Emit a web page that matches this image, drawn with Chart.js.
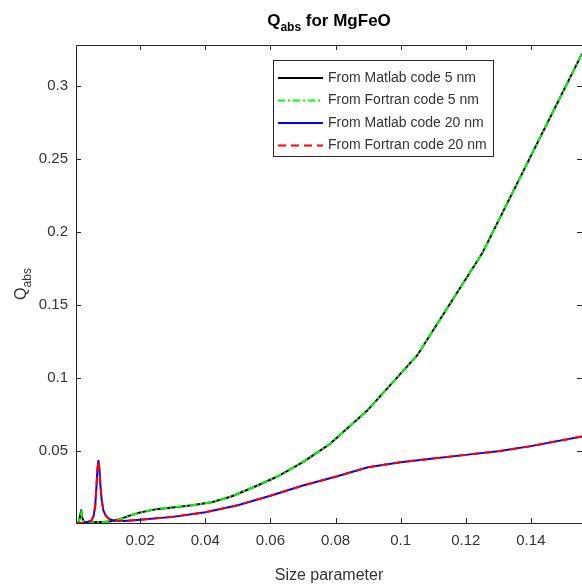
<!DOCTYPE html>
<html>
<head>
<meta charset="utf-8">
<script src="https://cdn.jsdelivr.net/npm/chart.js@4"></script>
<style>
  html, body { margin: 0; padding: 0; background: #fff; }
  #wrap { width: 582px; height: 586px; }
</style>
</head>
<body>
<div id="wrap"><canvas id="qabsChart" width="582" height="586"></canvas></div>
<script>
// size parameter / Q_abs
const size5 = [0.0003, 0.0012, 0.0016, 0.0019, 0.0022, 0.0028, 0.005, 0.008, 0.011, 0.014, 0.017, 0.02, 0.025, 0.03, 0.036, 0.042, 0.048, 0.055, 0.062, 0.07, 0.078, 0.09, 0.105, 0.125, 0.1557];
const matlab5 = [0.0004, 0.001, 0.006, 0.009, 0.004, 0.001, 0.0008, 0.0009, 0.0015, 0.003, 0.0055, 0.0075, 0.0098, 0.011, 0.0125, 0.0145, 0.0185, 0.025, 0.032, 0.042, 0.054, 0.078, 0.115, 0.185, 0.322];
const fortran5 = [0.0004, 0.001, 0.006, 0.009, 0.004, 0.001, 0.0008, 0.0009, 0.0015, 0.003, 0.0055, 0.0075, 0.0098, 0.011, 0.0125, 0.0145, 0.0185, 0.025, 0.032, 0.042, 0.054, 0.078, 0.115, 0.185, 0.322];

const size20 = [0.0003, 0.003, 0.005, 0.0057, 0.0062, 0.0066, 0.0069, 0.0072, 0.0075, 0.0078, 0.0082, 0.0087, 0.0094, 0.0105, 0.012, 0.015, 0.02, 0.03, 0.04, 0.05, 0.06, 0.07, 0.08, 0.09, 0.1, 0.11, 0.12, 0.13, 0.14, 0.1557];
const matlab20 = [0.0003, 0.0005, 0.0018, 0.005, 0.012, 0.026, 0.038, 0.043, 0.037, 0.026, 0.016, 0.009, 0.0055, 0.003, 0.0018, 0.0016, 0.0025, 0.0045, 0.0077, 0.0125, 0.019, 0.026, 0.032, 0.0385, 0.042, 0.0445, 0.047, 0.0495, 0.053, 0.0596];
const fortran20 = [0.0003, 0.0005, 0.0018, 0.005, 0.012, 0.026, 0.038, 0.043, 0.037, 0.026, 0.016, 0.009, 0.0055, 0.003, 0.0018, 0.0016, 0.0025, 0.0045, 0.0077, 0.0125, 0.019, 0.026, 0.032, 0.0385, 0.042, 0.0445, 0.047, 0.0495, 0.053, 0.0596];

const xTicks = [0.02, 0.04, 0.06, 0.08, 0.1, 0.12, 0.14];
const yTicks = [0.05, 0.1, 0.15, 0.2, 0.25, 0.3];
const seriesLabels = ['From Matlab code 5 nm', 'From Fortran code 5 nm', 'From Matlab code 20 nm', 'From Fortran code 20 nm'];

const FONT = '"Liberation Sans", Arial, Helvetica, sans-serif';
const TXT = '#333333';
const AXIS = '#262626';

const pts = (xs, ys) => xs.map((x, i) => ({ x: x, y: ys[i] }));

// matlab style: ticks inside, full box, text with subscripts
const matlabDecor = {
  id: 'matlabDecor',
  afterDatasetsDraw(chart) {
    const { ctx, chartArea: a, scales } = chart;
    ctx.save();
    ctx.strokeStyle = AXIS;
    ctx.lineWidth = 1;
    ctx.beginPath();
    ctx.rect(a.left + 0.5, a.top + 0.5, a.right - a.left, a.bottom - a.top);
    ctx.stroke();
    const tl = 5;
    ctx.beginPath();
    scales.x.ticks.forEach(t => {
      const px = Math.round(scales.x.getPixelForValue(t.value)) + 0.5;
      ctx.moveTo(px, a.bottom); ctx.lineTo(px, a.bottom - tl);
      ctx.moveTo(px, a.top); ctx.lineTo(px, a.top + tl);
    });
    scales.y.ticks.forEach(t => {
      const py = Math.round(scales.y.getPixelForValue(t.value)) + 0.5;
      ctx.moveTo(a.left, py); ctx.lineTo(a.left + tl, py);
      ctx.moveTo(a.right, py); ctx.lineTo(a.right - tl, py);
    });
    ctx.stroke();

    // legend box inside the axes
    const lx = 273, ly = 60, lw = 220, lh = 96;
    ctx.fillStyle = '#fff';
    ctx.fillRect(lx, ly, lw, lh);
    ctx.strokeStyle = '#262626';
    ctx.strokeRect(lx + 0.5, ly + 0.5, lw, lh);
    ctx.font = '14px ' + FONT;
    ctx.textBaseline = 'middle';
    chart.data.datasets.forEach((ds, i) => {
      const y = ly + 18 + i * 22.5;
      ctx.beginPath();
      ctx.strokeStyle = ds.borderColor;
      ctx.lineWidth = ds.borderWidth;
      ctx.setLineDash(ds.borderDash || []);
      ctx.moveTo(lx + 5, y);
      ctx.lineTo(lx + 50, y);
      ctx.stroke();
      ctx.setLineDash([]);
      ctx.fillStyle = TXT;
      ctx.fillText(ds.label, lx + 55, y);
    });

    // title Q_abs for MgFeO
    const cx = (a.left + a.right) / 2;
    ctx.fillStyle = '#000';
    ctx.textBaseline = 'alphabetic';
    const bigF = 'bold 17px ' + FONT, subF = 'bold 12px ' + FONT;
    ctx.font = bigF; const wQ = ctx.measureText('Q').width; const wRest = ctx.measureText(' for MgFeO').width;
    ctx.font = subF; const wSub = ctx.measureText('abs').width;
    let x0 = cx - (wQ + wSub + wRest) / 2;
    ctx.font = bigF; ctx.fillText('Q', x0, 26);
    ctx.font = subF; ctx.fillText('abs', x0 + wQ, 31);
    ctx.font = bigF; ctx.fillText(' for MgFeO', x0 + wQ + wSub, 26);

    // x label
    ctx.fillStyle = TXT;
    ctx.font = '16px ' + FONT;
    ctx.textAlign = 'center';
    ctx.fillText('Size parameter', cx, 580);

    // y label Q_abs rotated
    ctx.translate(26, (a.top + a.bottom) / 2);
    ctx.rotate(-Math.PI / 2);
    ctx.textAlign = 'left';
    ctx.font = '16px ' + FONT; const yq = ctx.measureText('Q').width;
    ctx.font = '12px ' + FONT; const ys = ctx.measureText('abs').width;
    const s = -(yq + ys) / 2;
    ctx.font = '16px ' + FONT; ctx.fillText('Q', s, 0);
    ctx.font = '12px ' + FONT; ctx.fillText('abs', s + yq, 5);
    ctx.restore();
  }
};

new Chart(document.getElementById('qabsChart'), {
  type: 'line',
  data: {
    datasets: [
      { label: seriesLabels[0], data: pts(size5, matlab5), borderColor: '#000000', borderWidth: 2, order: 4 },
      { label: seriesLabels[1], data: pts(size5, fortran5), borderColor: '#00ff00', borderWidth: 2, borderDash: [7, 3, 2, 3], order: 3 },
      { label: seriesLabels[2], data: pts(size20, matlab20), borderColor: '#0000ff', borderWidth: 2, order: 2 },
      { label: seriesLabels[3], data: pts(size20, fortran20), borderColor: '#ff0000', borderWidth: 2, borderDash: [8, 5], order: 1 }
    ]
  },
  options: {
    responsive: false,
    animation: false,
    elements: { point: { radius: 0 }, line: { tension: 0, borderJoinStyle: 'round' } },
    layout: { padding: { top: 45, right: 0, left: 0, bottom: 0 } },
    plugins: { legend: { display: false }, tooltip: { enabled: false }, title: { display: false } },
    scales: {
      x: {
        type: 'linear',
        min: 0.0003,
        max: 0.1557,
        afterBuildTicks: s => { s.ticks = xTicks.map(v => ({ value: v })); },
        afterFit: s => { s.height = 63; },
        grid: { display: false, drawTicks: false },
        border: { display: false },
        ticks: { color: TXT, font: { family: FONT, size: 15 }, padding: 9, maxRotation: 0, callback: v => String(v) }
      },
      y: {
        type: 'linear',
        min: 0.0003,
        max: 0.328,
        afterBuildTicks: s => { s.ticks = yTicks.map(v => ({ value: v })); },
        afterFit: s => { s.width = 76; },
        grid: { display: false, drawTicks: false },
        border: { display: false },
        ticks: { color: TXT, font: { family: FONT, size: 15 }, padding: 8, callback: v => String(v) }
      }
    }
  },
  plugins: [matlabDecor]
});
</script>
</body>
</html>
